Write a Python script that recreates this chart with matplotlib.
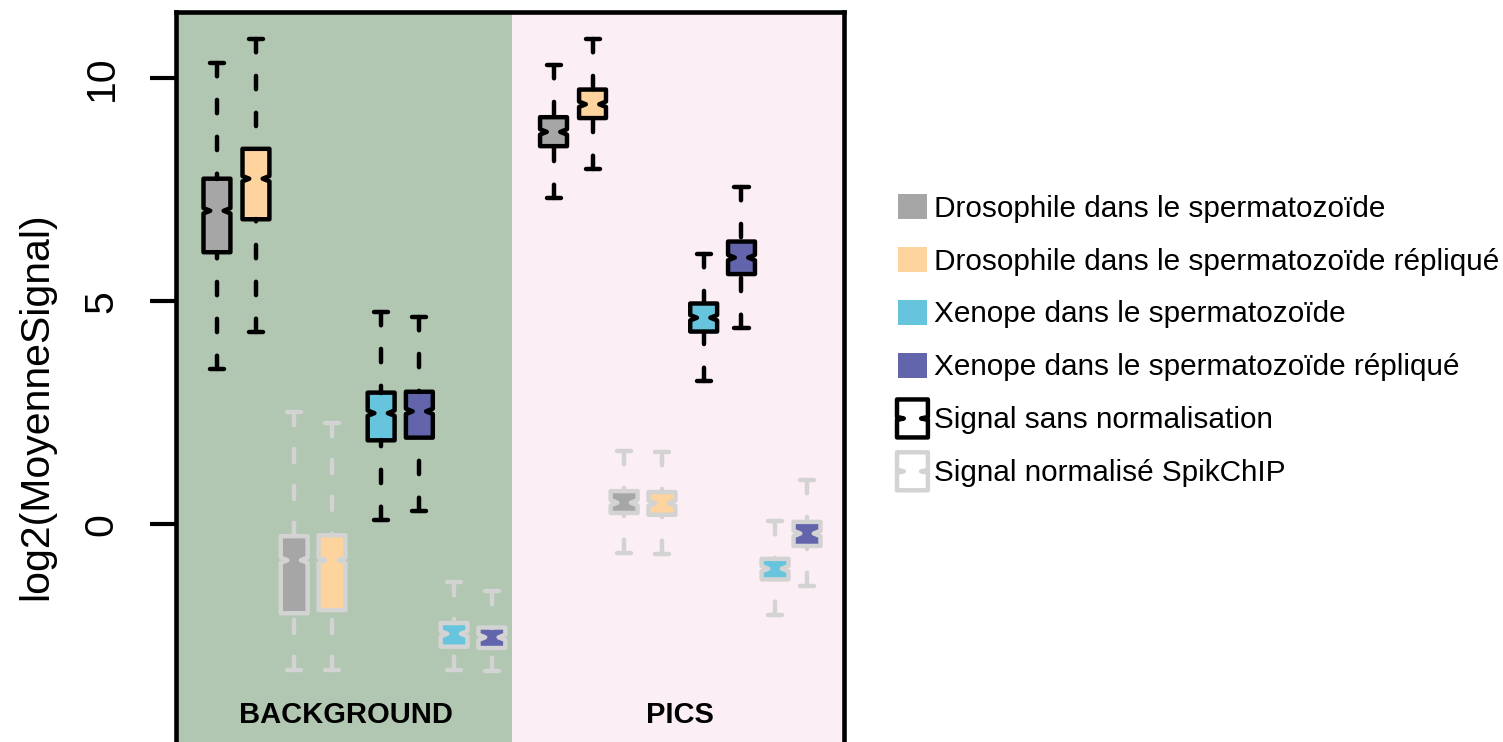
import matplotlib.pyplot as plt
from matplotlib.patches import Patch, Rectangle, Polygon
from matplotlib.legend_handler import HandlerPatch

plt.rcParams['font.family'] = ['Liberation Sans', 'DejaVu Sans']

# labels
regions = ['BACKGROUND', 'PICS']
legend_labels = ['Drosophile dans le spermatozoïde',
                 'Drosophile dans le spermatozoïde répliqué',
                 'Xenope dans le spermatozoïde',
                 'Xenope dans le spermatozoïde répliqué']
signal_labels = ['Signal sans normalisation', 'Signal normalisé SpikChIP']
fills = ['#A6A6A6', '#FDD49E', '#66C5DC', '#6264AC']

# five-number summaries: [whislo, q1, med, q3, whishi]
# order inside each pair: spermatozoide, spermatozoide replique
bg_dro_raw = [[3.49, 6.10, 7.03, 7.75, 10.34], [4.32, 6.84, 7.75, 8.42, 10.88]]
bg_dro_norm = [[-3.27, -2.00, -0.81, -0.27, 2.51], [-3.28, -1.93, -0.81, -0.25, 2.27]]
bg_xen_raw = [[0.09, 1.88, 2.49, 2.95, 4.75], [0.29, 1.94, 2.53, 2.97, 4.65]]
bg_xen_norm = [[-3.27, -2.75, -2.46, -2.22, -1.31], [-3.30, -2.78, -2.54, -2.32, -1.50]]
pics_dro_raw = [[7.32, 8.48, 8.80, 9.13, 10.30], [7.97, 9.11, 9.42, 9.75, 10.89]]
pics_dro_norm = [[-0.64, 0.25, 0.48, 0.74, 1.63], [-0.66, 0.21, 0.47, 0.72, 1.61]]
pics_xen_raw = [[3.21, 4.32, 4.63, 4.95, 6.06], [4.39, 5.61, 5.98, 6.34, 7.56]]
pics_xen_norm = [[-2.05, -1.24, -1.00, -0.78, 0.07], [-1.39, -0.49, -0.21, 0.05, 0.99]]

# layout
XMAX = 668 / 39
region_bounds = [(0, 8.62), (8.62, XMAX)]
region_colors = ['#B1C7B2', '#FCEEF5']
LW = 3.2
NOTCH = 0.06
BLACK = 'black'
LIGHT = '#D3D3D3'

fig = plt.figure(figsize=(15.03, 7.42), dpi=100)
ax = fig.add_axes([176 / 1503, -58 / 742, 668 / 1503, 788 / 742])
ax.set_xlim(0, XMAX)
ax.set_ylim(-6.19, 11.49)

for (a, b), c in zip(region_bounds, region_colors):
    ax.axvspan(a, b, color=c, lw=0, zorder=0)


def draw(data, pos, edge, cols):
    stats = [dict(whislo=d[0], q1=d[1], med=d[2], q3=d[3], whishi=d[4],
                  cilo=d[2] - NOTCH, cihi=d[2] + NOTCH, fliers=[]) for d in data]
    bp = ax.bxp(stats, positions=pos, widths=0.69, capwidths=0.36,
                shownotches=True, patch_artist=True, showfliers=False,
                manage_ticks=False,
                boxprops=dict(edgecolor=edge, linewidth=LW, joinstyle='round'),
                whiskerprops=dict(color=edge, linewidth=LW, linestyle=(0, (3.0, 5.3)),
                                  dash_capstyle='round'),
                capprops=dict(color=edge, linewidth=LW, solid_capstyle='round'),
                medianprops=dict(linestyle='none'))
    for patch, c in zip(bp['boxes'], cols):
        patch.set_facecolor(c)
    # dashes start at the cap, like R
    for w in bp['whiskers']:
        w.set_data(w.get_xdata()[::-1], w.get_ydata()[::-1])


draw(bg_dro_norm, [3.03, 4.00], LIGHT, fills[:2])
draw(bg_xen_norm, [7.13, 8.10], LIGHT, fills[2:])
draw(pics_dro_norm, [11.49, 12.46], LIGHT, fills[:2])
draw(pics_xen_norm, [15.36, 16.18], LIGHT, fills[2:])
draw(bg_dro_raw, [1.05, 2.05], BLACK, fills[:2])
draw(bg_xen_raw, [5.26, 6.24], BLACK, fills[2:])
draw(pics_dro_raw, [9.68, 10.68], BLACK, fills[:2])
draw(pics_xen_raw, [13.53, 14.50], BLACK, fills[2:])

for (a, b), name in zip(region_bounds, regions):
    ax.text((a + b) / 2 + 0.05, -4.47, name, ha='center', va='baseline',
            fontsize=21, fontweight='bold')

# axes styling
for s in ['left', 'top', 'right']:
    ax.spines[s].set_linewidth(3.3)
ax.spines['bottom'].set_visible(False)
ax.set_xticks([])
ax.set_yticks([0, 5, 10])
ax.tick_params(axis='y', length=19, width=3.0, labelsize=29.5, pad=21)
for lab in ax.get_yticklabels():
    lab.set_rotation(90)
    lab.set_va('center')
ax.set_ylabel('log2(MoyenneSignal)', fontsize=29.5)
ax.yaxis.set_label_coords(-(176 - 55) / 668, 0.5)


# legend keys
def square(legend, orig_handle, xdescent, ydescent, width, height, fontsize):
    w = width * 29 / 31
    h = height * 25 / 38
    return Rectangle((-xdescent + (width - w) / 2, -ydescent + (height - h) / 2), w, h)


def notched(legend, orig_handle, xdescent, ydescent, width, height, fontsize):
    x0, y0 = -xdescent, -ydescent
    ym = y0 + height / 2
    d = width * 0.22
    e = height * 0.04
    pts = [(x0, y0), (x0 + width, y0), (x0 + width, ym - e), (x0 + width - d, ym),
           (x0 + width, ym + e), (x0 + width, y0 + height), (x0, y0 + height),
           (x0, ym + e), (x0 + d, ym), (x0, ym - e)]
    return Polygon(pts, closed=True, joinstyle='round')


color_handles = [Patch(facecolor=c, edgecolor='none') for c in fills]
signal_handles = [Patch(facecolor='white', edgecolor=BLACK, linewidth=LW),
                  Patch(facecolor='white', edgecolor=LIGHT, linewidth=LW)]
hmap = {h: HandlerPatch(patch_func=square) for h in color_handles}
hmap.update({h: HandlerPatch(patch_func=notched) for h in signal_handles})

fig.legend(color_handles + signal_handles, legend_labels + signal_labels,
           handler_map=hmap, loc='upper left',
           bbox_to_anchor=(897 / 1503, 1 - 188 / 742), frameon=False,
           fontsize=21.4, handlelength=1.04, handleheight=1.59,
           handletextpad=0.2, labelspacing=0.5, borderpad=0, borderaxespad=0)

fig.savefig('out.png', dpi=100)
